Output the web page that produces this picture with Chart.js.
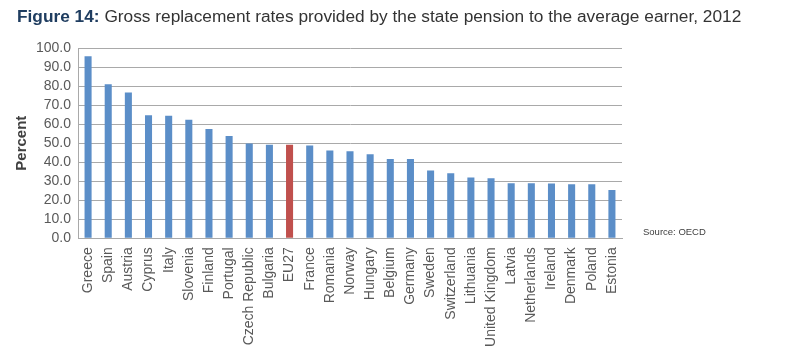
<!DOCTYPE html>
<html>
<head>
<meta charset="utf-8">
<script src="https://cdn.jsdelivr.net/npm/chart.js@4.4.1/dist/chart.umd.min.js"></script>
<style>
    html, body { margin: 0; padding: 0; background: #fff; }
    #wrap { position: relative; width: 800px; height: 362px; overflow: hidden; }
    #title {
        position: absolute; left: 17px; top: 6px; white-space: nowrap;
        font-family: "Liberation Sans", Arial, sans-serif;
        font-size: 17.3px; color: #333;
    }
    #title b { color: #1f3d60; }
    #source {
        position: absolute; left: 643px; top: 226px;
        font-family: "Liberation Sans", Arial, sans-serif; font-size: 9.5px; color: #404040;
    }
    canvas { position: absolute; left: 0; top: 0; }
</style>
</head>
<body>
<div id="wrap">
    <canvas id="chart" width="800" height="362"></canvas>
    <div id="title"><b>Figure 14:</b> Gross replacement rates provided by the state pension to the average earner, 2012</div>
    <div id="source">Source: OECD</div>
</div>
<script>
const countries = ["Greece", "Spain", "Austria", "Cyprus", "Italy", "Slovenia", "Finland", "Portugal",
    "Czech Republic", "Bulgaria", "EU27", "France", "Romania", "Norway", "Hungary", "Belgium", "Germany",
    "Sweden", "Switzerland", "Lithuania", "United Kingdom", "Latvia", "Netherlands", "Ireland", "Denmark",
    "Poland", "Estonia"];
const rates = [95.6, 81.0, 76.6, 64.7, 64.4, 62.3, 57.5, 53.7,
    49.8, 49.1, 49.1, 48.7, 46.1, 45.8, 44.2, 41.7, 41.7,
    35.6, 34.2, 31.9, 31.6, 28.9, 28.9, 28.8, 28.4,
    28.4, 25.4];
const yTicks = [0, 10, 20, 30, 40, 50, 60, 70, 80, 90, 100];

const blue = "#5b8ec8";
const red = "#c0504d";
const gridColor = "#a9a9a9";
const labelColor = "#595959";

const ctx = document.getElementById("chart").getContext("2d");
new Chart(ctx, {
    type: 'bar',
    data: {
        labels: countries,
        datasets: [{
            data: rates,
            backgroundColor: countries.map(c => c === "EU27" ? red : blue),
            categoryPercentage: 1,
            barPercentage: 0.35
        }]
    },
    options: {
        responsive: false,
        animation: false,
        layout: { padding: { left: 0, right: 178, top: 48, bottom: 0 } },
        plugins: {
            legend: { display: false },
            tooltip: { enabled: false }
        },
        scales: {
            x: {
                grid: { display: false, drawTicks: false },
                border: { color: gridColor },
                ticks: {
                    color: labelColor,
                    font: { family: "'Liberation Sans', Arial, sans-serif", size: 14 },
                    maxRotation: 90, minRotation: 90,
                    autoSkip: false,
                    padding: 9
                },
                afterFit: s => { s.height = 123.7; }
            },
            y: {
                min: 0, max: 100,
                afterBuildTicks: s => { s.ticks = yTicks.map(v => ({value: v})); },
                grid: { color: gridColor, drawTicks: false },
                border: { color: gridColor },
                ticks: {
                    color: labelColor,
                    font: { family: "'Liberation Sans', Arial, sans-serif", size: 14 },
                    padding: 7,
                    autoSkip: false,
                    callback: v => v.toFixed(1)
                },
                title: {
                    display: true,
                    text: 'Percent',
                    color: '#404040',
                    font: { family: "'Liberation Sans', Arial, sans-serif", size: 15, weight: 'bold' },
                    padding: { top: 13, bottom: 0 }
                },
                afterFit: s => { s.width = 78; }
            }
        }
    }
});
</script>
</body>
</html>
